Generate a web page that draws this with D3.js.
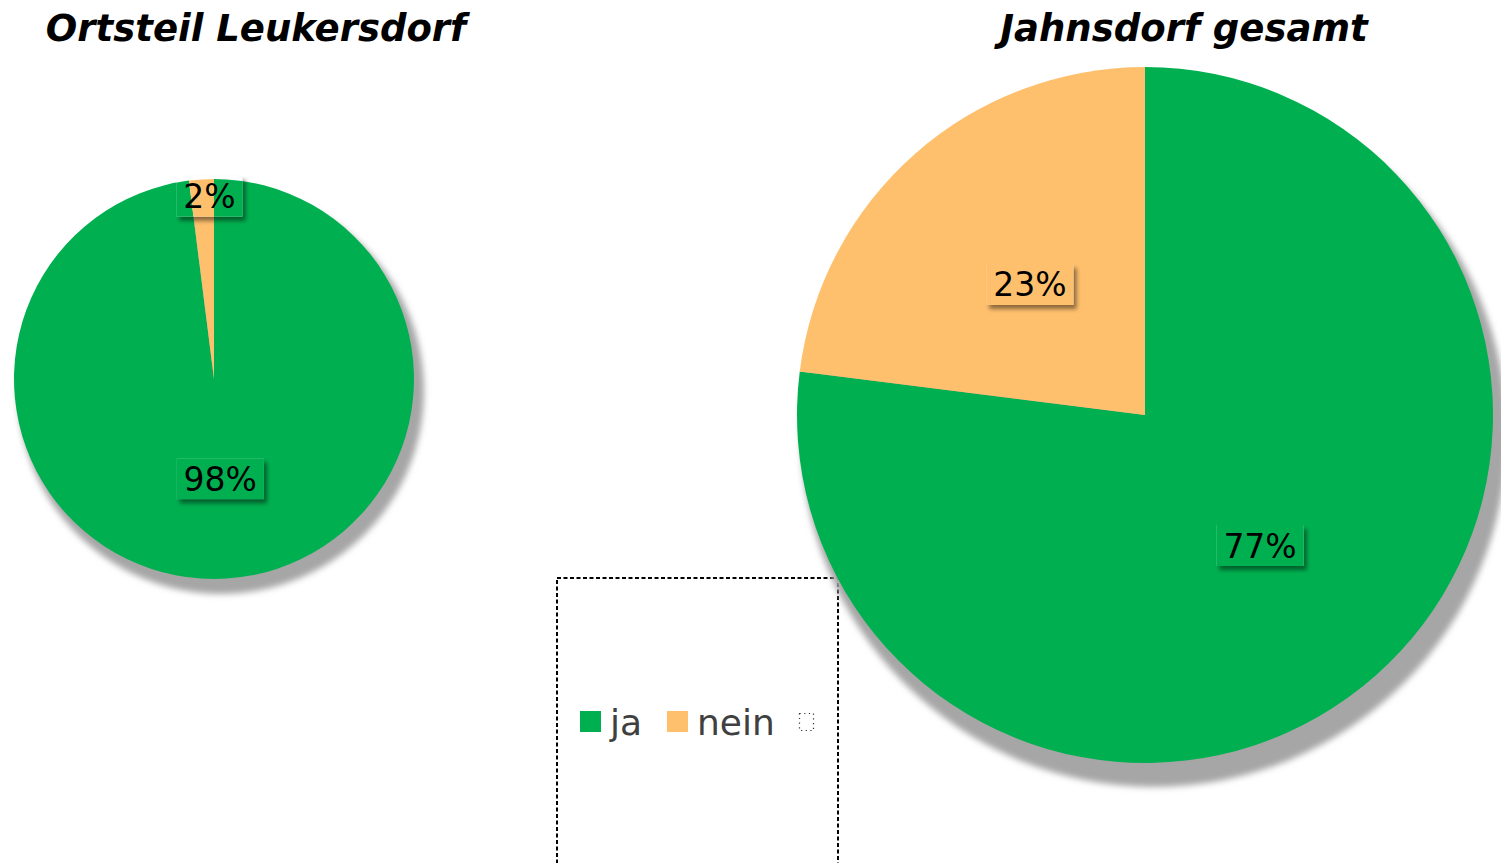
<!DOCTYPE html>
<html>
<head>
<meta charset="utf-8">
<script src="https://cdn.jsdelivr.net/npm/d3@7"></script>
<style>
  html, body { margin: 0; padding: 0; background: #fff; }
  svg { display: block; }
</style>
</head>
<body>
<div id="chart"></div>
<script>
const WIDTH = 1501;
const HEIGHT = 863;

// data
const categories = ["ja", "nein"];
const colors = ["#00B050", "#FFC06E"];
const titles = ["Ortsteil Leukersdorf", "Jahnsdorf gesamt"];
const leukersdorf = [98, 2];
const jahnsdorf = [77, 23];

const FONT = "'DejaVu Sans', Verdana, sans-serif";

const svg = d3.select("#chart").append("svg")
  .attr("width", WIDTH).attr("height", HEIGHT);

svg.append("rect").attr("width", WIDTH).attr("height", HEIGHT).attr("fill", "#fff");

const defs = svg.append("defs");
const shadow = defs.append("filter").attr("id", "blur")
  .attr("x", "-20%").attr("y", "-20%").attr("width", "140%").attr("height", "140%");
shadow.append("feGaussianBlur").attr("stdDeviation", 3);
const lblShadow = defs.append("filter").attr("id", "blurSmall")
  .attr("x", "-30%").attr("y", "-30%").attr("width", "160%").attr("height", "160%");
lblShadow.append("feGaussianBlur").attr("stdDeviation", 2);

const color = d3.scaleOrdinal().domain(categories).range(colors);

// legend (drawn first, right pie overlaps its corner)
const legend = svg.append("g");
legend.append("rect")
  .attr("x", 557).attr("y", 578).attr("width", 281).attr("height", 320)
  .attr("fill", "none").attr("stroke", "#000").attr("stroke-width", 2)
  .attr("stroke-dasharray", "4,2.5");
const legendX = d3.scalePoint().domain(categories).range([580, 667]);
categories.forEach(c => {
  legend.append("rect")
    .attr("x", legendX(c)).attr("y", 711).attr("width", 21).attr("height", 21)
    .attr("fill", color(c));
  legend.append("text")
    .attr("x", legendX(c) + 30).attr("y", 735)
    .attr("font-family", FONT).attr("font-size", 36).attr("fill", "#404040")
    .text(c);
});
legend.append("rect")
  .attr("x", 799.5).attr("y", 713.5).attr("width", 14).attr("height", 17)
  .attr("fill", "none").attr("stroke", "#333").attr("stroke-width", 1.2)
  .attr("stroke-dasharray", "1.2,3.5");

const pie = d3.pie().sort(null).value(d => d);

const drawPie = (values, cx, cy, r, sh, title, titleX, id) => {
  const g = svg.append("g").attr("transform", `translate(${cx},${cy})`);
  const arcs = pie(values);
  const arc = d3.arc().innerRadius(0).outerRadius(r);

  g.append("circle")
    .attr("cx", sh.dx).attr("cy", sh.dy).attr("r", r + sh.grow)
    .attr("fill", "#a6a6a6").attr("filter", "url(#blur)");

  g.selectAll("path.slice").data(arcs).enter()
    .append("path").attr("class", "slice")
    .attr("d", arc)
    .attr("fill", (d, i) => color(categories[i]));

  // data labels
  arcs.forEach((d, i) => {
    const share = d.value / d3.sum(values);
    const small = share < 0.05;
    const lr = small ? r * 0.915 : r * 0.5;
    const pos = d3.arc().innerRadius(lr).outerRadius(lr).centroid(d);
    if (small) pos[0] += 7; // best-fit nudge like the original
    const txt = Math.round(share * 100) + "%";

    const shadowRect = g.append("rect");
    const clipId = `clip-${id}-${i}`;
    const clipRect = defs.append("clipPath").attr("id", clipId).append("rect");
    const lg = g.append("g").attr("clip-path", `url(#${clipId})`);
    const bg = lg.append("rect").attr("fill", "#fff");
    lg.selectAll("path").data(arcs).enter()
      .append("path").attr("d", arc)
      .attr("fill", (e, j) => color(categories[j]));

    const t = g.append("text")
      .attr("x", pos[0]).attr("y", pos[1] + 12)
      .attr("text-anchor", "middle")
      .attr("font-family", FONT).attr("font-size", 33).attr("fill", "#000")
      .text(txt);

    const w = t.node().getComputedTextLength() + 14;
    const h = 41;
    const bx = pos[0] - w / 2, by = pos[1] - h / 2;
    [clipRect, bg].forEach(s => s.attr("x", bx).attr("y", by).attr("width", w).attr("height", h));
    shadowRect.attr("x", bx + 3).attr("y", by + 4).attr("width", w).attr("height", h)
      .attr("fill", "#000").attr("opacity", 0.45).attr("filter", "url(#blurSmall)");
  });

  svg.append("text")
    .attr("x", titleX).attr("y", 41)
    .attr("text-anchor", "middle")
    .attr("font-family", FONT).attr("font-size", 37)
    .attr("font-weight", "bold").attr("font-style", "italic")
    .attr("fill", "#000")
    .text(title);
};

drawPie(leukersdorf, 214, 379, 200, {dx: 7, dy: 12, grow: 3}, titles[0], 256, "l");
drawPie(jahnsdorf, 1145, 415, 348, {dx: 9, dy: 19, grow: 5}, titles[1], 1184, "j");
</script>
</body>
</html>
